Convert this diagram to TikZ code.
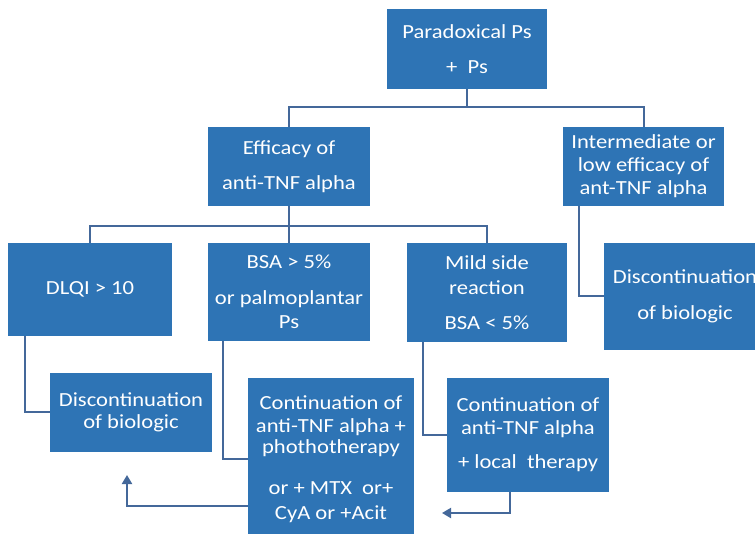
\documentclass[tikz,border=0pt]{standalone}
\usepackage{fontspec}
\setmainfont{Carlito}[FakeStretch=1.13]
\usetikzlibrary{arrows.meta,calc}
\definecolor{boxblue}{HTML}{2E74B5}
\definecolor{linkblue}{HTML}{44689A}
\tikzset{
  box/.style={rectangle, fill=boxblue, draw=none, text=white, inner sep=0pt,
    align=center, font=\fontsize{20}{23}\selectfont},
  link/.style={draw=linkblue, line width=2pt},
  arrowlink/.style={link, -{Triangle[length=9pt,width=10pt]}}
}
\begin{document}
\begin{tikzpicture}[x=1pt,y=-1pt]
\clip (0,0) rectangle (755,534);
\fill[white] (0,0) rectangle (755,534);
\node[box, minimum width=160pt, minimum height=80pt] (top) at (467,49) {Paradoxical Ps\\[12pt]+\ \ Ps};
\node[box, minimum width=162pt, minimum height=79pt] (eff) at (289,166.5) {Efficacy of\\[12pt]anti-TNF alpha};
\node[box, minimum width=161pt, minimum height=79pt] (inter) at (643.5,166.5) {Intermediate or\\low efficacy of\\ant-TNF alpha};
\node[box, minimum width=164pt, minimum height=93pt] (dlqi) at (90,289.5) {DLQI > 10};
\node[box, minimum width=162pt, minimum height=98pt] (bsa) at (289,292) {BSA > 5\%\\[13pt]or palmoplantar\\[1pt]Ps};
\node[box, minimum width=160pt, minimum height=99pt] (mild) at (487,292.5) {Mild side\\[2pt]reaction\\[12pt]BSA < 5\%};
\node[box, minimum width=162pt, minimum height=107pt] (discR) at (685,296.5) {Discontinuation\\[13pt]of biologic};
\node[box, minimum width=162pt, minimum height=79pt] (discL) at (131,412.5) {Discontinuation\\[-1pt]of biologic};
\node[box, minimum width=166pt, minimum height=162pt] (contM) at (331,459) {Continuation of\\anti-TNF alpha +\\[-2pt]phothotherapy\\[18pt]or + MTX\ \ or+\\[2pt]CyA or +Acit};
\node[box, minimum width=162pt, minimum height=114pt] (contR) at (528,435) {Continuation of\\anti-TNF alpha\\[11pt]+ local\ \ therapy};
\coordinate (tipR) at (442,513);
\coordinate (tipL) at (127,475);
% connectors
\draw[link] (top.south) -- ++(0,18) -| (eff.north);
\draw[link] (top.south) -- ++(0,18) -| (inter.north);
\draw[link] (eff.south) -- ++(0,20) -| (dlqi.north);
\draw[link] (eff.south) -- ++(0,20) -| (bsa.north);
\draw[link] (eff.south) -- ++(0,20) -| (mild.north);
\draw[link] ($(inter.south west)+(16,0)$) |- (discR.west);
\draw[link] ($(dlqi.south west)+(17,0)$) |- (discL.west);
\draw[link] ($(bsa.south west)+(15,0)$) |- (contM.west);
\draw[link] ($(mild.south west)+(16,0)$) |- (contR.west);
\draw[arrowlink] ($(contR.south)+(-18,0)$) |- (tipR);
\draw[arrowlink] (contM.west |- 0,506) -| (tipL);
\end{tikzpicture}
\end{document}
